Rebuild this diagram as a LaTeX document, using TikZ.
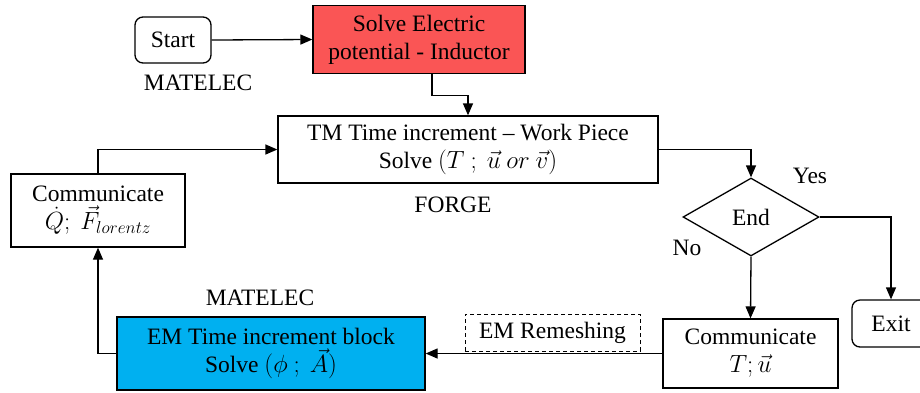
\documentclass[tikz,border=0pt]{standalone}
\usepackage{fontspec}
\setmainfont{Liberation Serif}
\newfontfamily\tnr[Ligatures=TeX]{Liberation Serif}
\usetikzlibrary{shapes.geometric,arrows.meta}
\definecolor{redfill}{RGB}{250,85,85}
\definecolor{bluefill}{RGB}{0,176,240}
\begin{document}
\begin{tikzpicture}[x=1pt,y=-1pt,
  font=\tnr\fontsize{23.5}{28}\selectfont,
  box/.style={draw,line width=1.3pt,align=center,inner sep=0pt,minimum width=#1},
  rbox/.style={box=#1,rounded corners=8pt},
  arr/.style={draw,line width=1.3pt,-{Triangle[length=12pt,width=10pt]}},
  lbl/.style={inner sep=0pt}]
\useasboundingbox (0,0) rectangle (920,392);
\node[rbox=76pt,minimum height=46pt] (start) at (173,40) {Start};
\node[box=212pt,minimum height=68pt,fill=redfill] (red) at (419,39.5) {Solve Electric\\potential - Inductor};
\node[box=380pt,minimum height=67pt] (tm) at (468,149.5) {TM Time increment – Work Piece\\Solve $(T\ ;\ \vec{u}\ or\ \vec{v})$};
\node[draw,line width=1.3pt,diamond,inner sep=0pt,minimum width=136pt,minimum height=78pt] (end) at (751,217) {End};
\node[rbox=78pt,minimum height=47pt] (exit) at (891,323.5) {Exit};
\node[box=175pt,minimum height=69pt] (comm2) at (750.5,353.5) {Communicate\\$T;\vec{u}$};
\node[box=175pt,minimum height=37pt,dashed,line width=1pt,dash pattern=on 4pt off 3pt] (remesh) at (552.5,332.5) {EM Remeshing};
\node[box=308pt,minimum height=73pt,fill=bluefill] (em) at (271,353.5) {EM Time increment block\\Solve $(\phi\ ;\ \vec{A})$};
\node[box=174pt,minimum height=73pt] (comm1) at (98,210.5) {Communicate\\$\dot{Q};\ \vec{F}_{lorentz}$};
\node[lbl] (m1) at (198,83) {MATELEC};
\node[lbl] (forge) at (453,205) {FORGE};
\node[lbl] (m2) at (260,298) {MATELEC};
\node[lbl] (yes) at (810,176) {Yes};
\node[lbl] (no) at (687,248) {No};
\draw[arr] (start.east) -- (red.west);
\draw[arr] ([xshift=13pt]red.south) -- ++(0,21) -| (tm.north);
\draw[arr] (tm.east) -| (end.north);
\draw[arr] (end.east) -| (exit.north);
\draw[arr] (end.south) -- (comm2.north);
\draw[arr] (comm2.west) -- (em.east);
\draw[arr] (em.west) -| (comm1.south);
\draw[arr] (comm1.north) |- (tm.west);
\end{tikzpicture}
\end{document}
